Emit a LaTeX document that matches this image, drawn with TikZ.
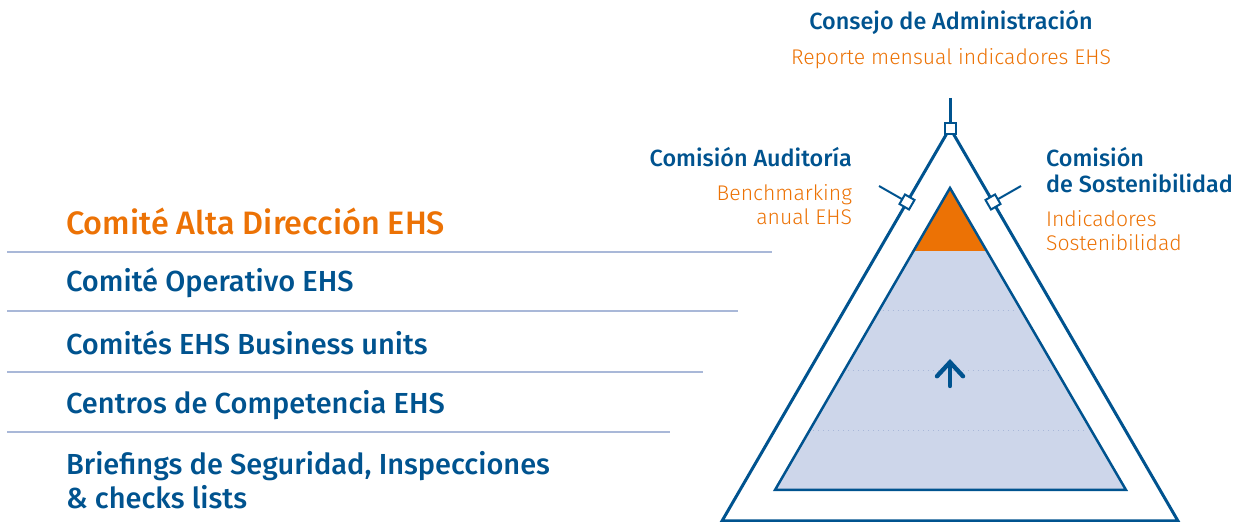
\documentclass[tikz,border=0pt]{standalone}
\usepackage{fontspec}
\setmainfont{Fira Sans}
\newfontfamily\medfont{Fira Sans Medium}
\newfontfamily\lightfont{Fira Sans Light}
\usetikzlibrary{arrows.meta}
\definecolor{ehsblue}{HTML}{00538F}
\definecolor{ehsorange}{HTML}{EC7205}
\definecolor{ehsfill}{HTML}{CDD6EA}
\definecolor{ehsrule}{HTML}{A9B8D8}
\tikzset{
  level/.style={anchor=west, text=ehsblue, font=\medfont\fontsize{14.5}{17}\selectfont, align=left},
  title/.style={text=ehsblue, font=\medfont\fontsize{11.7}{13}\selectfont},
  note/.style={text=ehsorange, font=\lightfont\fontsize{10.6}{12}\selectfont},
  joint/.style={draw=ehsblue, fill=white, line width=1pt, minimum size=5.5pt, inner sep=0pt}
}
\begin{document}
\begin{tikzpicture}[x=0.5pt, y=-0.5pt]
    \useasboundingbox (0,0) rectangle (1237,522);

    % Draw the outer triangle and the mast
    \draw[ehsblue, line width=1.5pt] (950,98) -- (950,128);
    \draw[ehsblue, line width=1.5pt, line join=miter] (950,128) -- (722,521) -- (1178,521) -- cycle;

    % Draw the inner pyramid
    \fill[ehsfill] (950,188) -- (775,490) -- (1126,490) -- cycle;
    \fill[ehsorange] (950,188) -- (914,251) -- (986,251) -- cycle;
    \foreach \yy in {311,371,431} {
        \pgfmathsetmacro{\hw}{(\yy-188)*0.58-4}
        \draw[ehsrule, dotted, line width=0.5pt] ({950-\hw},\yy) -- ({950+\hw},\yy);
    }
    \draw[ehsblue, line width=1.25pt] (950,188) -- (775,490) -- (1126,490) -- cycle;

    % Arrow in the middle
    \draw[ehsblue, line width=2.2pt, line cap=round,
        -{Straight Barb[length=7pt, width=13pt, line cap=round]}] (950,386) -- (950,359);

    % Ticks and joints on the outer triangle
    \draw[ehsblue, line width=1pt] (907,202) -- (879,186);
    \draw[ehsblue, line width=1pt] (993,202) -- (1021,186);
    \node[joint] (top) at (950,129) {};
    \node[joint, rotate=-30] (jleft) at (907,202) {};
    \node[joint, rotate=30] (jright) at (993,202) {};

    % Left side levels
    \foreach \yy/\xe in {252/772, 311/738, 372/703, 432/670} {
        \draw[ehsrule, line width=1pt] (7,\yy) -- (\xe,\yy);
    }
    \node[level, text=ehsorange, font=\medfont\fontsize{16.2}{17}\selectfont] (alta) at (59,221) {Comité Alta Dirección EHS};
    \node[level] (operativo) at (59,283) {Comité Operativo EHS};
    \node[level] (units) at (59,343) {Comités EHS Business units};
    \node[level] (centros) at (59,405) {Centros de Competencia EHS};
    \node[level] (briefings) at (59,480) {Briefings de Seguridad, Inspecciones\\\& checks lists};

    % Labels round the triangle
    \node[title] (consejo) at (951,22) {Consejo de Administración};
    \node[note] (reporte) at (951,59) {Reporte mensual indicadores EHS};
    \node[title, anchor=east] (auditoria) at (859,157) {Comisión Auditoría};
    \node[note, anchor=north east, align=right] (bench) at (859,177) {Benchmarking\\anual EHS};
    \node[title, anchor=north west, align=left] (sosten) at (1039,140) {Comisión\\de Sostenibilidad};
    \node[note, anchor=north west, align=left] (indic) at (1039,203) {Indicadores\\Sostenibilidad};
\end{tikzpicture}
\end{document}
